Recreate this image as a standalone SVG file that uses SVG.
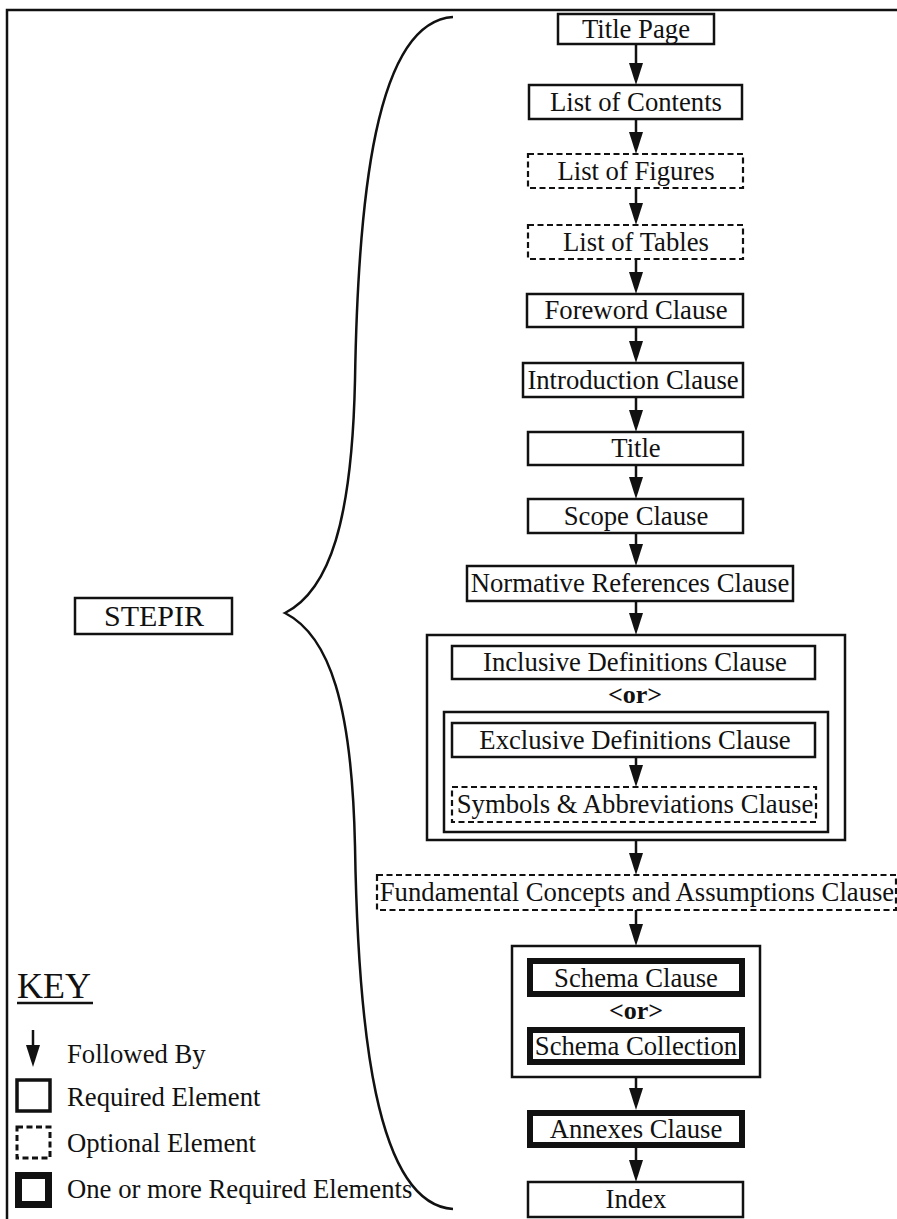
<svg xmlns="http://www.w3.org/2000/svg" width="897" height="1219" viewBox="0 0 897 1219">
<style>
.t{font-family:"Liberation Serif","Times New Roman",serif;font-size:26.7px;fill:#111;text-anchor:middle}
.k{font-family:"Liberation Serif","Times New Roman",serif;font-size:26.7px;fill:#111}
.or{font-family:"Liberation Serif","Times New Roman",serif;font-size:26px;font-weight:bold;fill:#111;text-anchor:middle}
.b{fill:#fff;stroke:#111;stroke-width:2.5}
.d{fill:#fff;stroke:#111;stroke-width:2.2;stroke-dasharray:6 3.5}
.h{fill:#fff;stroke:#111;stroke-width:6}
.g{fill:none;stroke:#111;stroke-width:2.5}
.c{fill:none;stroke:#111;stroke-width:2.5}
</style>
<defs>
<marker id="ah" markerUnits="userSpaceOnUse" viewBox="0 -7 22 14" refX="16" refY="0" markerWidth="22" markerHeight="14" orient="auto">
<path d="M0,-7 L22,0 L0,7 Z" fill="#111"/>
</marker>
</defs>
<rect width="897" height="1219" fill="#fff"/>
<g id="frame" fill="none" stroke="#111" stroke-width="2.5">
<path d="M7,1219 V10 H897"/>
</g>
<g id="brace">
<path class="c" d="M453,17 C375,22 358,200 355,380 C352,520 330,590 285,613 C330,636 352,706 355,846 C358,1026 375,1204 453,1209"/>
</g>
<g id="stepir"><rect class="b" x="75" y="598" width="157" height="36"/><text class="t" x="154" y="626" style="font-size:30px">STEPIR</text></g>
<g id="connectors" class="c">
<line x1="636" y1="44" x2="636" y2="79" marker-end="url(#ah)"/>
<line x1="636" y1="119" x2="636" y2="148" marker-end="url(#ah)"/>
<line x1="636" y1="188" x2="636" y2="219" marker-end="url(#ah)"/>
<line x1="636" y1="259" x2="636" y2="288" marker-end="url(#ah)"/>
<line x1="636" y1="327" x2="636" y2="357" marker-end="url(#ah)"/>
<line x1="636" y1="397" x2="636" y2="426" marker-end="url(#ah)"/>
<line x1="636" y1="465" x2="636" y2="493" marker-end="url(#ah)"/>
<line x1="636" y1="533" x2="636" y2="560" marker-end="url(#ah)"/>
<line x1="636" y1="601" x2="636" y2="629" marker-end="url(#ah)"/>
<line x1="636" y1="757" x2="636" y2="781" marker-end="url(#ah)"/>
<line x1="636" y1="840" x2="636" y2="869" marker-end="url(#ah)"/>
<line x1="636" y1="910" x2="636" y2="940" marker-end="url(#ah)"/>
<line x1="636" y1="1077" x2="636" y2="1104" marker-end="url(#ah)"/>
<line x1="636" y1="1148" x2="636" y2="1176" marker-end="url(#ah)"/>
</g>
<g id="title_page"><rect class="b" x="558" y="14" width="156" height="30"/><text class="t" x="636" y="38">Title Page</text></g>
<g id="list_of_contents"><rect class="b" x="529" y="85" width="213" height="34"/><text class="t" x="636" y="111">List of Contents</text></g>
<g id="list_of_figures"><rect class="d" x="528" y="154" width="215" height="34"/><text class="t" x="636" y="180">List of Figures</text></g>
<g id="list_of_tables"><rect class="d" x="528" y="225" width="215" height="34"/><text class="t" x="636" y="251">List of Tables</text></g>
<g id="foreword_clause"><rect class="b" x="527" y="294" width="216" height="33"/><text class="t" x="636" y="319">Foreword Clause</text></g>
<g id="introduction_clause"><rect class="b" x="523" y="363" width="220" height="34"/><text class="t" x="633" y="389">Introduction Clause</text></g>
<g id="title"><rect class="b" x="528" y="432" width="215" height="33"/><text class="t" x="636" y="457">Title</text></g>
<g id="scope_clause"><rect class="b" x="528" y="499" width="215" height="34"/><text class="t" x="636" y="525">Scope Clause</text></g>
<g id="normative_references_clause"><rect class="b" x="467" y="566" width="326" height="35"/><text class="t" x="630" y="592">Normative References Clause</text></g>
<g id="definitions_group">
<rect class="g" x="427" y="635" width="418" height="205"/>
<rect class="g" x="444" y="712" width="384" height="120"/>
<text class="or" x="635" y="703">&lt;or&gt;</text>
</g>
<g id="inclusive_definitions_clause"><rect class="b" x="452" y="646" width="363" height="33"/><text class="t" x="635" y="671">Inclusive Definitions Clause</text></g>
<g id="exclusive_definitions_clause"><rect class="b" x="452" y="723" width="363" height="34"/><text class="t" x="635" y="749">Exclusive Definitions Clause</text></g>
<g id="symbols_abbreviations_clause"><rect class="d" x="452" y="787" width="364" height="35"/><text class="t" x="635" y="813">Symbols &amp; Abbreviations Clause</text></g>
<g id="fundamental_concepts_clause"><rect class="d" x="377" y="875" width="519" height="35"/><text class="t" x="637" y="901">Fundamental Concepts and Assumptions Clause</text></g>
<g id="schema_group">
<rect class="g" x="512" y="946" width="248" height="131"/>
<text class="or" x="636" y="1019">&lt;or&gt;</text>
</g>
<g id="schema_clause"><rect class="h" x="530" y="961" width="212" height="33"/><text class="t" x="636" y="987">Schema Clause</text></g>
<g id="schema_collection"><rect class="h" x="530" y="1030" width="212" height="32"/><text class="t" x="636" y="1055">Schema Collection</text></g>
<g id="annexes_clause"><rect class="h" x="530" y="1113" width="212" height="32"/><text class="t" x="636" y="1138">Annexes Clause</text></g>
<g id="index"><rect class="b" x="528" y="1182" width="215" height="35"/><text class="t" x="636" y="1208">Index</text></g>
<g id="key">
<text class="k" x="17" y="998" style="font-size:36px">KEY</text>
<line x1="17" y1="1003" x2="93" y2="1003" stroke="#111" stroke-width="2.5"/>
<line x1="33" y1="1030" x2="33" y2="1061" stroke="#111" stroke-width="2.5" marker-end="url(#ah)"/>
<text class="k" x="67" y="1063">Followed By</text>
<rect x="17" y="1080" width="33" height="31" fill="#fff" stroke="#111" stroke-width="3.5"/>
<text class="k" x="67" y="1106">Required Element</text>
<rect x="17" y="1127" width="33" height="31" fill="#fff" stroke="#111" stroke-width="3" stroke-dasharray="6 3.5"/>
<text class="k" x="67" y="1152">Optional Element</text>
<rect x="18.5" y="1175.5" width="30" height="29" fill="#fff" stroke="#111" stroke-width="7"/>
<text class="k" x="67" y="1198">One or more Required Elements</text>
</g>
</svg>
